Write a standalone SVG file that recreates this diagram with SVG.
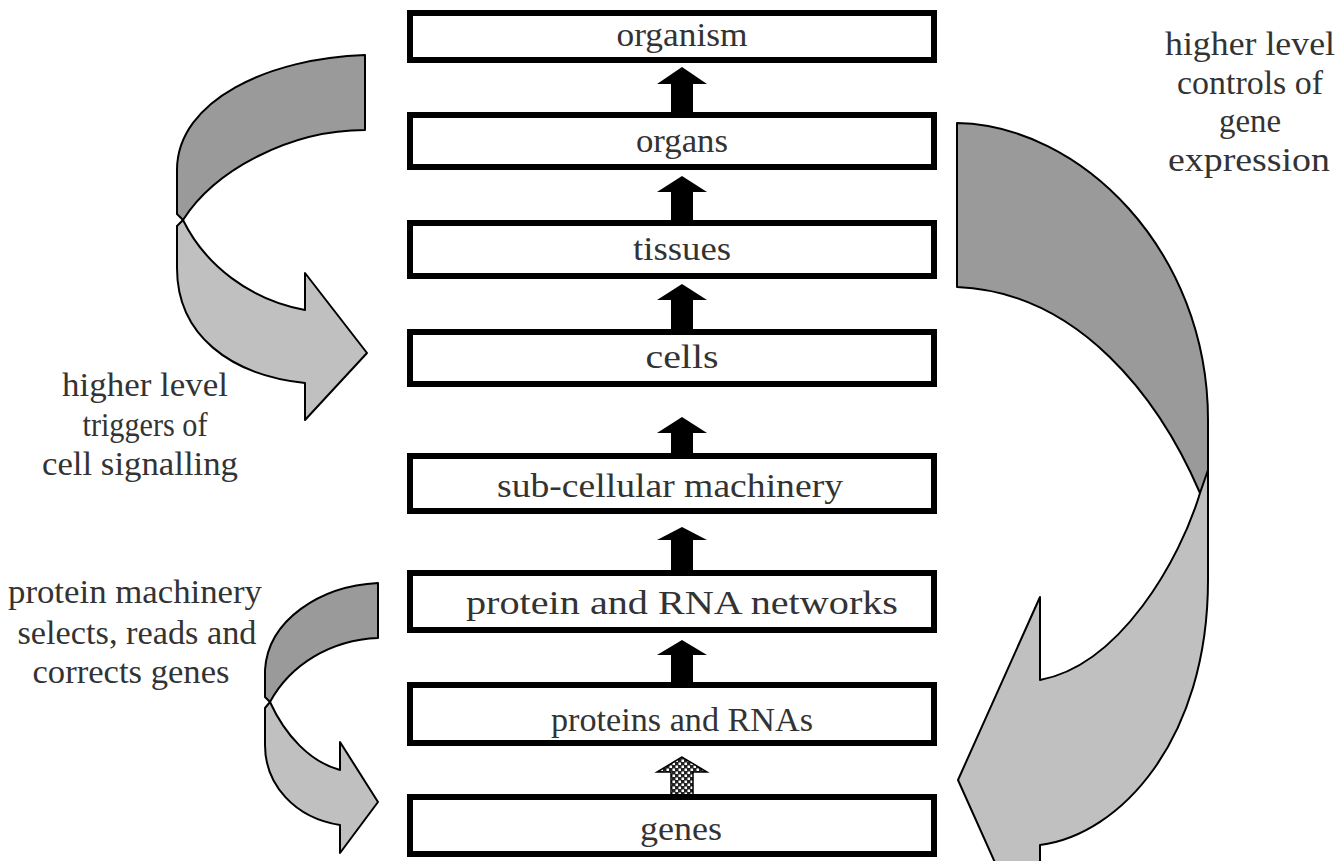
<svg xmlns="http://www.w3.org/2000/svg" width="1337" height="861" viewBox="0 0 1337 861">
<defs>
<pattern id="chk" width="6" height="6" patternUnits="userSpaceOnUse">
<rect width="6" height="6" fill="#222"/>
<rect x="0.5" y="0.5" width="2.5" height="2.5" fill="#fff"/>
<rect x="3.5" y="3.5" width="2.5" height="2.5" fill="#fff"/>
</pattern>
</defs>
<style>
.box{fill:#fff;stroke:#000;stroke-width:6}
.bt{font-family:"Liberation Serif","Times New Roman",serif;font-size:33px;fill:#333;text-anchor:middle}
.lt{font-family:"Liberation Serif","Times New Roman",serif;font-size:34px;fill:#333;text-anchor:middle}
.up{fill:#000}
.dk{fill:#9a9a9a;stroke:#000;stroke-width:2;stroke-linejoin:round}
.lg{fill:#c0c0c0;stroke:#000;stroke-width:2;stroke-linejoin:round}
</style>
<rect width="1337" height="861" fill="#fff"/>

<g id="connectors">
<polygon class="up" points="682,67 657,84 671,84 671,113 693,113 693,84 707,84"/>
<polygon class="up" points="682,176 657,192 671,192 671,221 693,221 693,192 707,192"/>
<polygon class="up" points="682,284 657,300 671,300 671,330 693,330 693,300 707,300"/>
<polygon class="up" points="682,417 657,433 671,433 671,455 693,455 693,433 707,433"/>
<polygon class="up" points="682,527 657,540 671,540 671,571 693,571 693,540 707,540"/>
<polygon class="up" points="682,640 657,655 671,655 671,683 693,683 693,655 707,655"/>
<polygon points="682,757 657,772 671,772 671,795 693,795 693,772 707,772" fill="url(#chk)" stroke="#000" stroke-width="1.5"/>
</g>

<g id="arrow-cell-signalling">
<path class="dk" d="M365,55 L365,130 C290,130 215,170 183,220 L177,214 L177,170 C177,100 270,58 365,55 Z"/>
<path class="lg" d="M183,220 C205,265 250,300 305,310 L305,273 L367,353 L305,420 L305,383 C230,375 177,335 177,268 L177,226 Z"/>
</g>

<g id="arrow-gene-expression">
<path class="dk" d="M957,123 C1080,125 1208,250 1208,420 L1208,496 L1200,493 C1160,400 1080,292 957,287 Z"/>
<path class="lg" d="M1200,493 C1180,560 1120,665 1040,680 L1040,597 L958,780 L1040,963 L1040,845 C1120,835 1208,740 1208,580 L1208,470 Z"/>
</g>

<g id="arrow-protein-machinery">
<path class="dk" d="M378,583 L378,638 C330,640 290,665 270,702 L265,697 L265,670 C268,620 320,586 378,583 Z"/>
<path class="lg" d="M270,702 C285,735 310,762 340,770 L340,742 L378,802 L340,853 L340,825 C295,818 265,785 265,745 L265,708 Z"/>
</g>

<g id="node-organism"><rect class="box" x="410" y="13" width="524" height="47"/><text class="bt" x="682" y="46" textLength="131" lengthAdjust="spacingAndGlyphs">organism</text></g>
<g id="node-organs"><rect class="box" x="410" y="115" width="524" height="52"/><text class="bt" x="682" y="152" textLength="92" lengthAdjust="spacingAndGlyphs">organs</text></g>
<g id="node-tissues"><rect class="box" x="410" y="223" width="524" height="53"/><text class="bt" x="682" y="260" textLength="98" lengthAdjust="spacingAndGlyphs">tissues</text></g>
<g id="node-cells"><rect class="box" x="410" y="332" width="524" height="52"/><text class="bt" x="682" y="368" textLength="73" lengthAdjust="spacingAndGlyphs">cells</text></g>
<g id="node-subcellular"><rect class="box" x="410" y="456" width="524" height="55"/><text class="bt" x="670" y="497" textLength="346" lengthAdjust="spacingAndGlyphs">sub-cellular machinery</text></g>
<g id="node-networks"><rect class="box" x="410" y="573" width="524" height="57"/><text class="bt" x="682" y="614" textLength="432" lengthAdjust="spacingAndGlyphs">protein and RNA networks</text></g>
<g id="node-proteins"><rect class="box" x="410" y="685" width="524" height="58"/><text class="bt" x="682" y="731" textLength="262" lengthAdjust="spacingAndGlyphs">proteins and RNAs</text></g>
<g id="node-genes"><rect class="box" x="410" y="797" width="524" height="57"/><text class="bt" x="681" y="840" textLength="82" lengthAdjust="spacingAndGlyphs">genes</text></g>

<g id="label-gene-expression">
<text class="lt" x="1250" y="55" textLength="170" lengthAdjust="spacingAndGlyphs">higher level</text>
<text class="lt" x="1250" y="94" textLength="146" lengthAdjust="spacingAndGlyphs">controls of</text>
<text class="lt" x="1250" y="132" textLength="62" lengthAdjust="spacingAndGlyphs">gene</text>
<text class="lt" x="1249" y="171" textLength="162" lengthAdjust="spacingAndGlyphs">expression</text>
</g>
<g id="label-cell-signalling">
<text class="lt" x="145" y="396" textLength="166" lengthAdjust="spacingAndGlyphs">higher level</text>
<text class="lt" x="145" y="436" textLength="125" lengthAdjust="spacingAndGlyphs">triggers of</text>
<text class="lt" x="140" y="475" textLength="196" lengthAdjust="spacingAndGlyphs">cell signalling</text>
</g>
<g id="label-protein-machinery">
<text class="lt" x="135" y="603" textLength="254" lengthAdjust="spacingAndGlyphs">protein machinery</text>
<text class="lt" x="137" y="644" textLength="239" lengthAdjust="spacingAndGlyphs">selects, reads and</text>
<text class="lt" x="131" y="683" textLength="197" lengthAdjust="spacingAndGlyphs">corrects genes</text>
</g>
</svg>
